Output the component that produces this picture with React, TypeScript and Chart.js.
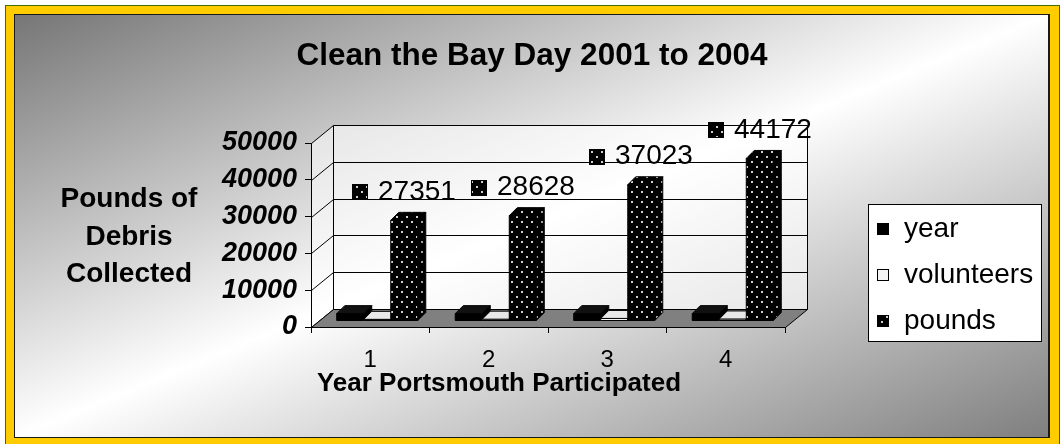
import React, { useEffect, useRef } from 'react';
import { Chart, registerables } from 'chart.js';

Chart.register(...registerables);

// ---------- data ----------
const categories = ['1', '2', '3', '4'];
const seriesNames = ['year', 'volunteers', 'pounds'];
const yearValues = [2001, 2002, 2003, 2004];
const volunteerValues = [450, 500, 700, 550];
const poundsValues = [27351, 28628, 37023, 44172];
const yMin = 0;
const yMax = 50000;
const yStep = 10000;
const titleText = 'Clean the Bay Day 2001 to 2004';
const yTitleLines = ['Pounds of', 'Debris', 'Collected'];
const xTitleText = 'Year Portsmouth Participated';

const FONT = '"Liberation Sans", Arial, Helvetica, sans-serif';

// 3D geometry
const DEPTH = { x: 22, y: -18 };
const BAR_OFF = { x: 7, y: -6 };
const BAR_DEPTH = { x: 8, y: -8 };

type Fill = string | CanvasPattern;

function makePattern(bg: string, dot: string, size: number, dots: number[][], dotSize: number): Fill {
  const c = document.createElement('canvas');
  c.width = size;
  c.height = size;
  const g = c.getContext('2d');
  if (!g) return bg;
  g.fillStyle = bg;
  g.fillRect(0, 0, size, size);
  g.fillStyle = dot;
  dots.forEach(([x, y]) => g.fillRect(x, y, dotSize, dotSize));
  return g.createPattern(c, 'repeat') || bg;
}

function poly(ctx: CanvasRenderingContext2D, pts: number[][], fill: Fill | null, stroke = true) {
  ctx.beginPath();
  ctx.moveTo(pts[0][0], pts[0][1]);
  for (let i = 1; i < pts.length; i++) ctx.lineTo(pts[i][0], pts[i][1]);
  ctx.closePath();
  if (fill) {
    ctx.fillStyle = fill as any;
    ctx.fill();
  }
  if (stroke) ctx.stroke();
}

function drawBox(
  ctx: CanvasRenderingContext2D,
  x0: number,
  x1: number,
  yTop: number,
  yBase: number,
  fills: { front: Fill; side: Fill; top: Fill }
) {
  const d = BAR_DEPTH;
  poly(ctx, [[x0, yTop], [x1, yTop], [x1, yBase], [x0, yBase]], fills.front);
  poly(ctx, [[x1, yTop], [x1 + d.x, yTop + d.y], [x1 + d.x, yBase + d.y], [x1, yBase]], fills.side);
  poly(ctx, [[x0, yTop], [x1, yTop], [x1 + d.x, yTop + d.y], [x0 + d.x, yTop + d.y]], fills.top);
}

export default function App() {
  const ref = useRef<HTMLCanvasElement | null>(null);

  useEffect(() => {
    const canvas = ref.current;
    if (!canvas) return;

    const poundsPat = makePattern('#000', '#d0d0d0', 10, [[1, 1], [6, 6]], 2);
    const poundsSidePat = makePattern('#000', '#a0a0a0', 10, [[1, 1], [6, 6]], 2);
    const yearPat = makePattern('#000', '#777', 16, [[8, 4]], 2);
    const volPat = makePattern('#f4f4f4', '#333', 16, [[8, 4]], 2);

    const boxFills = [
      { front: yearPat, side: '#000', top: '#111' },
      { front: volPat, side: '#c8c8c8', top: '#e8e8e8' },
      { front: poundsPat, side: poundsSidePat, top: poundsPat },
    ];
    const swatchFills: Fill[] = [yearPat, volPat, poundsPat];

    const plugin = {
      id: 'excel3d',
      beforeDraw(chart: any) {
        const { ctx, chartArea: a, scales } = chart;
        const ys = scales.y;
        ctx.save();
        ctx.lineWidth = 1;
        ctx.strokeStyle = '#000';
        const L = a.left + 0.5;
        const R = a.right + 0.5;
        const yTopF = Math.round(ys.getPixelForValue(yMax)) + 0.5;
        const yBotF = Math.round(ys.getPixelForValue(yMin)) + 0.5;
        // left wall
        poly(ctx, [[L, yTopF], [L + DEPTH.x, yTopF + DEPTH.y], [L + DEPTH.x, yBotF + DEPTH.y], [L, yBotF]], 'rgba(255,255,255,0.55)', false);
        // back wall
        poly(ctx, [[L + DEPTH.x, yTopF + DEPTH.y], [R + DEPTH.x, yTopF + DEPTH.y], [R + DEPTH.x, yBotF + DEPTH.y], [L + DEPTH.x, yBotF + DEPTH.y]], 'rgba(255,255,255,0.6)', false);
        // gridlines
        ys.ticks.forEach((t: any) => {
          const y = Math.round(ys.getPixelForValue(t.value)) + 0.5;
          ctx.beginPath();
          ctx.moveTo(L, y);
          ctx.lineTo(L + DEPTH.x, y + DEPTH.y);
          ctx.lineTo(R + DEPTH.x, y + DEPTH.y);
          ctx.stroke();
        });
        // back wall edges
        ctx.beginPath();
        ctx.moveTo(L + DEPTH.x, yTopF + DEPTH.y);
        ctx.lineTo(L + DEPTH.x, yBotF + DEPTH.y);
        ctx.moveTo(R + DEPTH.x, yTopF + DEPTH.y);
        ctx.lineTo(R + DEPTH.x, yBotF + DEPTH.y);
        ctx.stroke();
        // floor
        poly(ctx, [[L, yBotF], [R, yBotF], [R + DEPTH.x, yBotF + DEPTH.y], [L + DEPTH.x, yBotF + DEPTH.y]], '#808080');

        // titles
        ctx.fillStyle = '#000';
        ctx.textAlign = 'center';
        ctx.textBaseline = 'alphabetic';
        ctx.font = `bold 31.5px ${FONT}`;
        ctx.fillText(titleText, 532, 65);
        ctx.font = `bold 28px ${FONT}`;
        const yb = [207, 245, 282];
        yTitleLines.forEach((s, i) => ctx.fillText(s, 129, yb[i]));
        ctx.font = `bold 26px ${FONT}`;
        ctx.fillText(xTitleText, 499, 391);
        ctx.restore();
      },
      afterDatasetsDraw(chart: any) {
        const { ctx } = chart;
        ctx.save();
        ctx.lineWidth = 1;
        ctx.strokeStyle = '#000';
        const n = chart.data.labels.length;
        const nd = chart.data.datasets.length;
        for (let i = 0; i < n; i++) {
          for (let d = 0; d < nd; d++) {
            const el = chart.getDatasetMeta(d).data[i];
            if (!el) continue;
            const p = el.getProps(['x', 'y', 'base', 'width'], true);
            const x0 = p.x - p.width / 2 + BAR_OFF.x;
            const x1 = p.x + p.width / 2 + BAR_OFF.x;
            drawBox(ctx, x0, x1, p.y + BAR_OFF.y, p.base + BAR_OFF.y, boxFills[d]);
          }
        }
        // data labels for pounds
        const pm = chart.getDatasetMeta(2);
        ctx.font = `28px ${FONT}`;
        ctx.textBaseline = 'middle';
        ctx.textAlign = 'left';
        pm.data.forEach((el: any, i: number) => {
          const p = el.getProps(['x', 'y'], true);
          const txt = String(chart.data.datasets[2].data[i]);
          const tw = ctx.measureText(txt).width;
          const total = 16 + 10 + tw;
          const cx = p.x + BAR_OFF.x;
          const cy = p.y + BAR_OFF.y - 28;
          const sx = Math.round(cx - total / 2);
          ctx.fillStyle = poundsPat;
          ctx.fillRect(sx, Math.round(cy - 8), 16, 16);
          ctx.strokeRect(sx + 0.5, Math.round(cy - 8) + 0.5, 15, 15);
          ctx.fillStyle = '#000';
          ctx.fillText(txt, sx + 26, cy);
        });
        ctx.restore();
      },
      afterDraw(chart: any) {
        const { ctx } = chart;
        ctx.save();
        const lx = 868, ly = 204, lw = 174, lh = 138;
        ctx.fillStyle = '#fff';
        ctx.fillRect(lx, ly, lw, lh);
        ctx.strokeStyle = '#000';
        ctx.lineWidth = 1;
        ctx.strokeRect(lx + 0.5, ly + 0.5, lw - 1, lh - 1);
        ctx.font = `28px ${FONT}`;
        ctx.textBaseline = 'middle';
        ctx.textAlign = 'left';
        chart.data.datasets.forEach((ds: any, i: number) => {
          const cy = ly + 25 + i * 46;
          ctx.fillStyle = swatchFills[i] as any;
          ctx.fillRect(877, cy - 6, 12, 12);
          ctx.strokeRect(877.5, cy - 5.5, 11, 11);
          ctx.fillStyle = '#000';
          ctx.fillText(ds.label, 904, cy);
        });
        ctx.restore();
      },
    };

    const transparent = 'rgba(0,0,0,0)';
    const chart = new Chart(canvas, {
      type: 'bar',
      data: {
        labels: categories,
        datasets: [
          { label: seriesNames[0], data: yearValues, backgroundColor: transparent, borderWidth: 0 },
          { label: seriesNames[1], data: volunteerValues, backgroundColor: transparent, borderWidth: 0 },
          { label: seriesNames[2], data: poundsValues, backgroundColor: transparent, borderWidth: 0 },
        ],
      },
      options: {
        responsive: false,
        animation: false,
        events: [],
        layout: { padding: { left: 0, top: 143, right: 277, bottom: 444 - 327 - 50 } },
        datasets: { bar: { categoryPercentage: 0.684, barPercentage: 1 } } as any,
        plugins: {
          legend: { display: false },
          title: { display: false },
          tooltip: { enabled: false },
        },
        scales: {
          x: {
            offset: true,
            grid: { display: true, drawOnChartArea: false, drawTicks: true, tickLength: 6, offset: true, color: '#000' },
            border: { display: true, color: '#000' },
            ticks: { color: '#000', font: { family: FONT, size: 24 }, padding: 13, maxRotation: 0 },
            afterFit: (s: any) => { s.height = 50; },
          } as any,
          y: {
            min: yMin,
            max: yMax,
            ticks: {
              stepSize: yStep,
              color: '#000',
              font: { family: FONT, size: 27, weight: 'bold', style: 'italic' },
              padding: 8,
              callback: (v: any) => String(v),
            },
            grid: { display: true, drawOnChartArea: false, drawTicks: true, tickLength: 6, color: '#000' },
            border: { display: true, color: '#000' },
            afterFit: (s: any) => { s.width = 311; },
          } as any,
        },
      },
      plugins: [plugin as any],
    });
    return () => chart.destroy();
  }, []);

  const abs = (l: number, t: number, w: number, h: number, bg: string): React.CSSProperties => ({
    position: 'fixed', left: l, top: t, width: w, height: h, background: bg,
  });

  return (
    <div style={{ position: 'fixed', left: 0, top: 0, width: 1062, height: 444, overflow: 'hidden', background: '#fff' }}>
      <div style={abs(5, 5, 1055, 440, '#3f6e00')} />
      <div style={abs(6, 6, 1053, 438, '#ffcc00')} />
      <div style={abs(14, 14, 1036, 424, '#1a1a1a')} />
      <div style={abs(15, 15, 1033, 422, 'linear-gradient(to bottom right, #767676 0%, #ffffff 50%, #7f7f7f 100%)')} />
      <canvas ref={ref} width={1062} height={444} style={{ position: 'fixed', left: 0, top: 0, width: 1062, height: 444 }} />
    </div>
  );
}
